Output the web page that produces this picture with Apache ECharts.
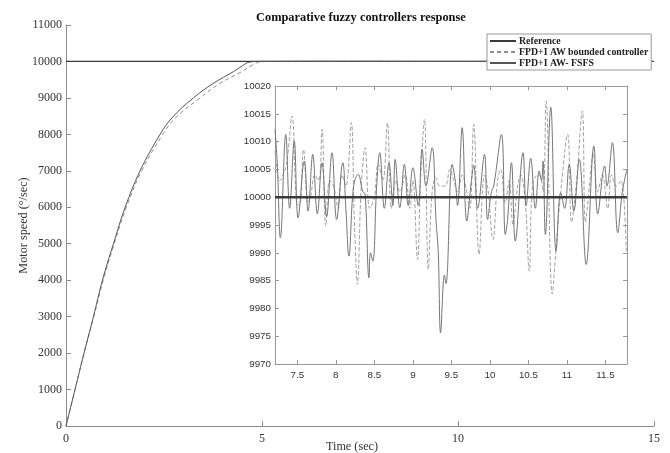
<!DOCTYPE html>
<html>
<head>
<meta charset="utf-8">
<script src="https://cdn.jsdelivr.net/npm/echarts@6/dist/echarts.min.js"></script>
<style>
html,body{margin:0;padding:0;background:#fff;}
#chart{width:670px;height:453px;}
</style>
</head>
<body>
<div id="chart"></div>
<script>
// ---- data ----
const titleText = 'Comparative fuzzy controllers response';
const seriesNames = ['Reference', 'FPD+I AW bounded controller', 'FPD+I AW- FSFS'];

const refT = [0, 15];
const refV = [10000, 10000];

// main response (FSFS, solid)
const fsfsMainT = [0, 0.23, 0.46, 0.70, 0.93, 1.21, 1.51, 1.89, 2.40, 2.70, 3.25, 3.76, 4.27, 4.50, 4.69, 5.0, 7.0, 10.0, 12.0, 15.0];
const fsfsMainV = [0, 1000, 2000, 3000, 4000, 5000, 6000, 7000, 8000, 8450, 9000, 9400, 9720, 9880, 9985, 10002, 10005, 10001, 10004, 10000];

// main response (bounded, dashed)
const boundMainT = [0, 0.23, 0.46, 0.71, 0.95, 1.23, 1.54, 1.93, 2.47, 2.79, 3.42, 3.93, 4.48, 4.72, 4.95, 5.3, 7.0, 10.0, 12.0, 15.0];
const boundMainV = [0, 1000, 2000, 3000, 4000, 5000, 6000, 7000, 8000, 8450, 9000, 9400, 9720, 9880, 9985, 10001, 10003, 10002, 10003, 10000];

// inset: FSFS (solid)
const fsfsInsetT = [7.21, 7.24, 7.28, 7.35, 7.40, 7.46, 7.51, 7.59, 7.64, 7.70, 7.76, 7.82, 7.88, 7.95, 8.01, 8.09, 8.13, 8.17, 8.23, 8.29, 8.35, 8.38, 8.43, 8.45, 8.48, 8.53, 8.57, 8.63, 8.69, 8.74, 8.77, 8.83, 8.89, 8.94, 9.00, 9.07, 9.12, 9.17, 9.25, 9.30, 9.33, 9.36, 9.41, 9.43, 9.51, 9.55, 9.58, 9.64, 9.70, 9.76, 9.79, 9.84, 9.93, 9.97, 10.02, 10.05, 10.15, 10.20, 10.23, 10.28, 10.33, 10.43, 10.47, 10.53, 10.59, 10.64, 10.67, 10.69, 10.72, 10.79, 10.86, 10.92, 10.97, 11.03, 11.09, 11.16, 11.25, 11.35, 11.40, 11.49, 11.52, 11.59, 11.66, 11.72, 11.78];
const fsfsInsetV = [10012.2, 10006, 9992.7, 10011.3, 9998, 10010.1, 9996.3, 10006.5, 9997.5, 10007.7, 9997, 10006.2, 9996.5, 10008, 9996, 10006.2, 9998, 9989.4, 10002, 10004.1, 10001, 10000.6, 9985.5, 9990, 9988.5, 10002, 10008, 9998, 10006.2, 9998.5, 10006.8, 9998.1, 10005.9, 9998.5, 10005.3, 9998.5, 10008.6, 10002, 10008.9, 9996, 9990, 9975.6, 9986, 9984.5, 10005.9, 10003, 9998.5, 10012.5, 9995.7, 10003, 10005.7, 9998, 10007.7, 9996, 10001, 10002, 10011.3, 9993.3, 9996, 10006.2, 9992.1, 10008, 9998.5, 10007, 9998, 10004.7, 10003, 10006.5, 9993.3, 10016.2, 9990.3, 10000.8, 9998, 10005.9, 9997.5, 10006.8, 9987.9, 10009.2, 9997, 10005.6, 10002, 10009.8, 9993.6, 10001, 10005];

// inset: bounded (dashed)
const boundInsetT = [7.21, 7.27, 7.30, 7.36, 7.43, 7.49, 7.53, 7.58, 7.64, 7.67, 7.73, 7.78, 7.82, 7.87, 7.92, 7.97, 8.03, 8.08, 8.13, 8.20, 8.24, 8.28, 8.33, 8.38, 8.44, 8.50, 8.55, 8.61, 8.67, 8.72, 8.78, 8.83, 8.90, 8.96, 9.00, 9.06, 9.10, 9.15, 9.20, 9.25, 9.30, 9.35, 9.42, 9.48, 9.53, 9.58, 9.64, 9.70, 9.74, 9.79, 9.86, 9.93, 9.97, 10.04, 10.10, 10.14, 10.20, 10.25, 10.30, 10.36, 10.40, 10.46, 10.51, 10.56, 10.64, 10.69, 10.73, 10.81, 10.86, 10.92, 11.01, 11.06, 11.12, 11.20, 11.24, 11.30, 11.34, 11.40, 11.46, 11.53, 11.58, 11.64, 11.70, 11.77];
const boundInsetV = [10008.3, 10002.9, 10003.5, 10006, 10014.6, 9999, 9998.5, 10008.6, 9999, 10000, 10004, 10003, 10012.2, 9994.8, 10003, 10002, 9998, 10004, 10002, 10013.4, 9996, 9984.3, 10002, 10008.9, 9998, 10000, 10006, 10003, 10013.4, 9998, 10003, 10001, 10004, 9998, 10003, 9988.8, 10003, 10014, 9987, 10001, 10003.5, 10002, 10002, 10005, 10003, 10001, 10004, 10001, 9998, 10013.1, 9989.7, 10004, 10002, 9992.4, 10003, 10005, 9999, 10003, 9995, 10002, 10004, 9999, 9986.7, 10003, 10004, 10001, 10017.3, 9982.6, 9991, 10001, 10011.3, 9995.5, 10002, 10015.5, 9995.5, 10003, 10008, 10001, 10004, 9998, 10004, 10002, 10003, 9990.3];

const insetXTicks = [7.5, 8, 8.5, 9, 9.5, 10, 10.5, 11, 11.5];

function pairs(t, v) { return t.map((x, i) => [x, v[i]]); }

const serif = 'Liberation Serif';
const sans = 'Liberation Sans';
const cRef = '#3a3a3a', cFsfs = '#767676', cBound = '#a2a2a2';
const axisGray = '#8c8c8c';

const chart = echarts.init(document.getElementById('chart'), null, {renderer: 'canvas'});
const noComma = v => String(v);

const option = {
  animation: false,
  backgroundColor: '#ffffff',
  title: {
    text: titleText, left: 251, top: 7,
    textStyle: {fontFamily: serif, fontWeight: 'bold', fontSize: 12.4, color: '#111'}
  },
  legend: {
    data: seriesNames, orient: 'vertical', left: 487, top: 34,
    itemWidth: 26, itemHeight: 8, itemGap: 1,
    padding: [2, 3, 2, 2],
    borderColor: '#999', borderWidth: 1, backgroundColor: '#fff',
    itemStyle: {opacity: 0},
    textStyle: {fontFamily: serif, fontWeight: 'bold', fontSize: 9.8, lineHeight: 10, color: '#222', padding: [0,0,0,-2]}
  },
  grid: [
    {left: 66, right: 16, top: 25, bottom: 27, outerBoundsMode: 'none', containLabel: false},
    {left: 275, top: 86, width: 352, height: 278, show: true, backgroundColor: '#fff', borderWidth: 0, outerBoundsMode: 'none', containLabel: false}
  ],
  xAxis: [
    {gridIndex: 0, type: 'value', min: 0, max: 15, interval: 5,
     axisLine: {lineStyle: {color: axisGray}}, axisTick: {inside: true, length: 5, lineStyle: {color: axisGray}},
     splitLine: {show: false},
     axisLabel: {fontFamily: serif, fontSize: 12, color: '#333', margin: 7, formatter: noComma},
     name: 'Time (sec)', nameLocation: 'middle', nameGap: 15, nameMoveOverlap: false,
     nameTextStyle: {fontFamily: serif, fontSize: 12.2, color: '#333', padding: [0, 16, 0, 0]}},
    {gridIndex: 1, type: 'value', min: 7.21, max: 11.78,
     axisLine: {onZero: false, lineStyle: {color: '#999'}},
     axisTick: {inside: true, length: 4, customValues: insetXTicks, lineStyle: {color: '#999'}},
     splitLine: {show: false},
     axisLabel: {customValues: insetXTicks, fontFamily: sans, fontSize: 9.8, color: '#333', margin: 6, formatter: noComma}},
    {gridIndex: 1, type: 'value', min: 7.21, max: 11.78, position: 'top',
     axisLine: {onZero: false, lineStyle: {color: '#999'}},
     axisTick: {inside: true, length: 4, customValues: insetXTicks, lineStyle: {color: '#999'}},
     splitLine: {show: false},
     axisLabel: {show: false, customValues: insetXTicks}}
  ],
  yAxis: [
    {gridIndex: 0, type: 'value', min: 0, max: 11000, interval: 1000,
     axisLine: {show: true, lineStyle: {color: axisGray}}, axisTick: {show: true, inside: true, length: 5, lineStyle: {color: axisGray}},
     splitLine: {show: false},
     axisLabel: {fontFamily: serif, fontSize: 12, color: '#333', margin: 4, formatter: noComma},
     name: 'Motor speed (°/sec)', nameLocation: 'middle', nameGap: 36, nameMoveOverlap: false,
     nameTextStyle: {fontFamily: serif, fontSize: 12.2, color: '#333'}},
    {gridIndex: 1, type: 'value', min: 9970, max: 10020, interval: 5,
     axisLine: {show: true, onZero: false, lineStyle: {color: '#999'}},
     axisTick: {show: true, inside: true, length: 4, lineStyle: {color: '#999'}},
     splitLine: {show: false},
     axisLabel: {fontFamily: sans, fontSize: 9.8, color: '#333', margin: 4, formatter: noComma}},
    {gridIndex: 1, type: 'value', min: 9970, max: 10020, interval: 5, position: 'right',
     axisLine: {show: true, onZero: false, lineStyle: {color: '#999'}},
     axisTick: {show: true, inside: true, length: 4, lineStyle: {color: '#999'}},
     splitLine: {show: false},
     axisLabel: {show: false}}
  ],
  series: [
    {name: seriesNames[0], type: 'line', xAxisIndex: 0, yAxisIndex: 0, data: pairs(refT, refV),
     symbol: 'none', lineStyle: {color: cRef, width: 1.2}, itemStyle: {color: cRef}, z: 3},
    {name: seriesNames[1], type: 'line', xAxisIndex: 0, yAxisIndex: 0, data: pairs(boundMainT, boundMainV),
     symbol: 'none', smooth: 0.4,
     lineStyle: {color: '#8e8e8e', width: 1, type: [4, 3]}, itemStyle: {color: cBound}},
    {name: seriesNames[2], type: 'line', xAxisIndex: 0, yAxisIndex: 0, data: pairs(fsfsMainT, fsfsMainV),
     symbol: 'none', smooth: 0.4,
     lineStyle: {color: '#555', width: 1}, itemStyle: {color: cFsfs}},
    {name: seriesNames[1], type: 'line', xAxisIndex: 1, yAxisIndex: 1, data: pairs(boundInsetT, boundInsetV),
     symbol: 'none', smooth: 0.4,
     lineStyle: {color: cBound, width: 1, type: [4, 2]}, itemStyle: {color: cBound}},
    {name: seriesNames[2], type: 'line', xAxisIndex: 1, yAxisIndex: 1, data: pairs(fsfsInsetT, fsfsInsetV),
     symbol: 'none', smooth: 0.4,
     lineStyle: {color: cFsfs, width: 1}, itemStyle: {color: cFsfs}},
    {name: seriesNames[0], type: 'line', xAxisIndex: 1, yAxisIndex: 1, data: pairs([7.21, 11.78], refV),
     symbol: 'none', lineStyle: {color: cRef, width: 2.5}, itemStyle: {color: cRef}, z: 4}
  ]
};
chart.setOption(option);
</script>
</body>
</html>
